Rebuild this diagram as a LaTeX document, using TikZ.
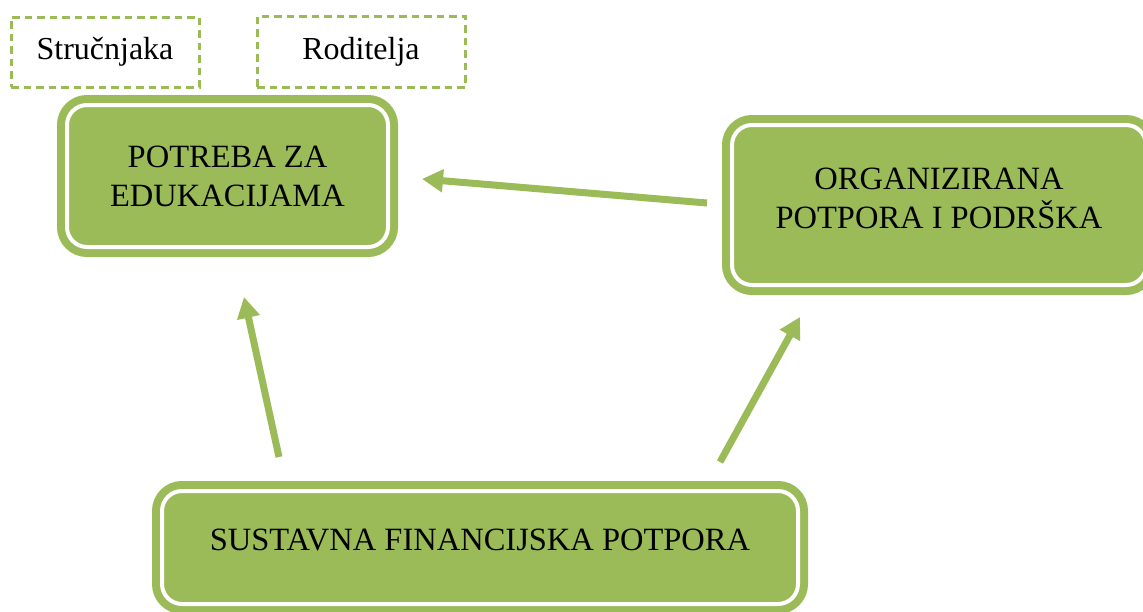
\documentclass[tikz,border=0pt]{standalone}
\usepackage{fontspec}
\setmainfont{Liberation Serif}
\usetikzlibrary{arrows.meta}
\definecolor{ogreen}{HTML}{9BBB59}
\tikzset{
  mainbox/.style={rectangle, rounded corners=20pt, fill=ogreen, draw=ogreen,
    double=white, line width=8pt, double distance=4pt, align=center,
    inner sep=0pt, font=\fontsize{32.5}{39}\selectfont},
  dashbox/.style={rectangle, draw=ogreen, line width=3pt,
    dash pattern=on 7.5pt off 5pt, inner sep=0pt, font=\fontsize{32}{39}\selectfont},
  garrow/.style={draw=ogreen, line width=7pt,
    -{Triangle[length=21pt,width=22pt]}}
}
\begin{document}
\begin{tikzpicture}[x=1pt,y=-1pt]
\clip (0,0) rectangle (1143,611);
\fill[white] (0,0) rectangle (1143,611);
% dashed boxes
\node[dashbox, minimum width=188pt, minimum height=70pt] (s) at (105,52) {Stručnjaka};
\node[dashbox, minimum width=208pt, minimum height=71pt] (r) at (361,51.5) {Roditelja};
% main boxes
\node[mainbox, minimum width=321pt, minimum height=142pt] (b1) at (227.5,176) {POTREBA ZA\\EDUKACIJAMA};
\node[mainbox, minimum width=414pt, minimum height=160pt] (b2) at (939,205) {};
\node[font=\fontsize{32.5}{39}\selectfont, align=center] (t2) at (939,198) {ORGANIZIRANA\\POTPORA I PODRŠKA};
\node[mainbox, minimum width=636pt, minimum height=113pt] (b3) at (480,547.5) {};
\node[font=\fontsize{32.5}{39}\selectfont] (t3) at (480,540) {SUSTAVNA FINANCIJSKA POTPORA};
% arrows
\coordinate (a1s) at (707,203);
\coordinate (a1e) at (422,179);
\coordinate (a2s) at (279,457);
\coordinate (a2e) at (244,297);
\coordinate (a3s) at (720,462);
\coordinate (a3e) at (800,317);
\draw[garrow] (a1s) -- (a1e);
\draw[garrow] (a2s) -- (a2e);
\draw[garrow] (a3s) -- (a3e);
\end{tikzpicture}
\end{document}
